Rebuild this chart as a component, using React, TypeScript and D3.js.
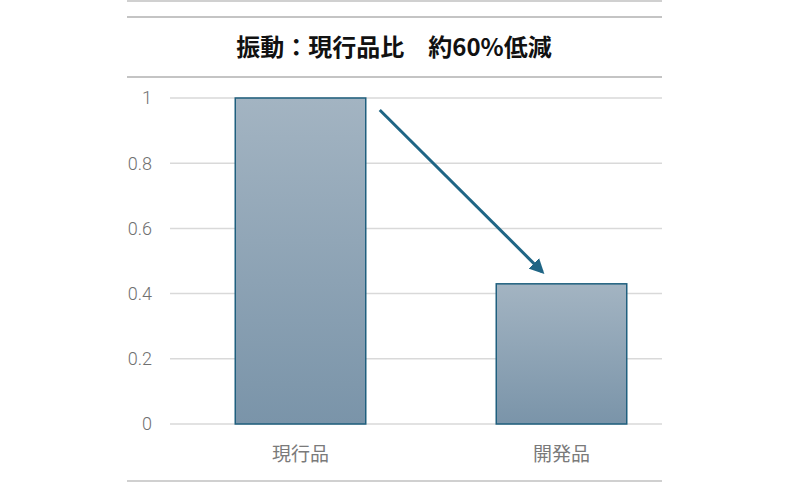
import React from 'react';
import * as d3 from 'd3';

// chart data
const categories = ['現行品', '開発品'];
const values = [1.0, 0.43];
const yTicks = [0, 0.2, 0.4, 0.6, 0.8, 1];
const titleText = '振動：現行品比　約60%低減';

const W = 787;
const H = 482;

export default function App() {
  const margin = { top: 98, bottom: 424, left: 170, right: 662 };

  const y = d3.scaleLinear().domain([0, 1]).range([margin.bottom, margin.top]);
  const x = d3.scaleBand<string>()
    .domain(categories)
    .range([margin.left, 692])
    .paddingInner(0.5)
    .paddingOuter(0.25);

  const fmt = (v: number) => (v === 0 || v === 1 ? String(v) : v.toFixed(1));

  // arrow from top-right of first bar to top of second
  const x0 = (x(categories[0]) ?? 0) + x.bandwidth() + 14;
  const y0 = y(values[0]) + 12;
  const x1 = (x(categories[1]) ?? 0) + 46;
  const y1 = y(values[1]) - 12;

  return (
    <div style={{ position: 'absolute', left: 0, top: 0 }}>
      <svg width={W} height={H} style={{ display: 'block', fontFamily: '"Noto Sans CJK JP", "Noto Sans", sans-serif' }}>
        <defs>
          <linearGradient id="barGrad" x1="0" y1="0" x2="0" y2="1">
            <stop offset="0%" stopColor="#a3b4c2" />
            <stop offset="100%" stopColor="#7a94a9" />
          </linearGradient>
          <marker id="arrowHead" viewBox="0 0 10 10" refX="8" refY="5" markerWidth="5" markerHeight="5" orient="auto">
            <path d="M0,0 L10,5 L0,10 Z" fill="#1f6585" />
          </marker>
        </defs>
        <rect width={W} height={H} fill="#fff" />

        {/* frame lines */}
        <line x1={127} x2={662} y1={1} y2={1} stroke="#d0d0d0" strokeWidth={2} />
        <line x1={127} x2={662} y1={17} y2={17} stroke="#c4c4c4" strokeWidth={2} />
        <line x1={127} x2={662} y1={77} y2={77} stroke="#c4c4c4" strokeWidth={2} />
        <line x1={127} x2={662} y1={481} y2={481} stroke="#d0d0d0" strokeWidth={2} />

        <text x={394} y={56} textAnchor="middle" fontSize={24} fontWeight="bold" fill="#111">
          {titleText}
        </text>

        {yTicks.map((t) => (
          <g key={t}>
            <line x1={margin.left} x2={margin.right} y1={y(t)} y2={y(t)} stroke="#d9d9d9" strokeWidth={1.5} />
            <text x={152} y={y(t)} dy="0.35em" textAnchor="end" fontSize={18} fontWeight={300} fill="#707070" fontFamily="Roboto, 'Noto Sans', sans-serif">
              {fmt(t)}
            </text>
          </g>
        ))}

        {categories.map((c, i) => (
          <g key={c}>
            <rect
              x={x(c)}
              y={y(values[i])}
              width={x.bandwidth()}
              height={y(0) - y(values[i])}
              fill="url(#barGrad)"
              stroke="#1f5f7e"
              strokeWidth={1.5}
            />
            <text x={(x(c) ?? 0) + x.bandwidth() / 2} y={454} dy="0.35em" textAnchor="middle" fontSize={19} fill="#7a7a7a">
              {c}
            </text>
          </g>
        ))}

        <line x1={x0} y1={y0} x2={x1} y2={y1} stroke="#1f6585" strokeWidth={3} markerEnd="url(#arrowHead)" />
      </svg>
    </div>
  );
}
